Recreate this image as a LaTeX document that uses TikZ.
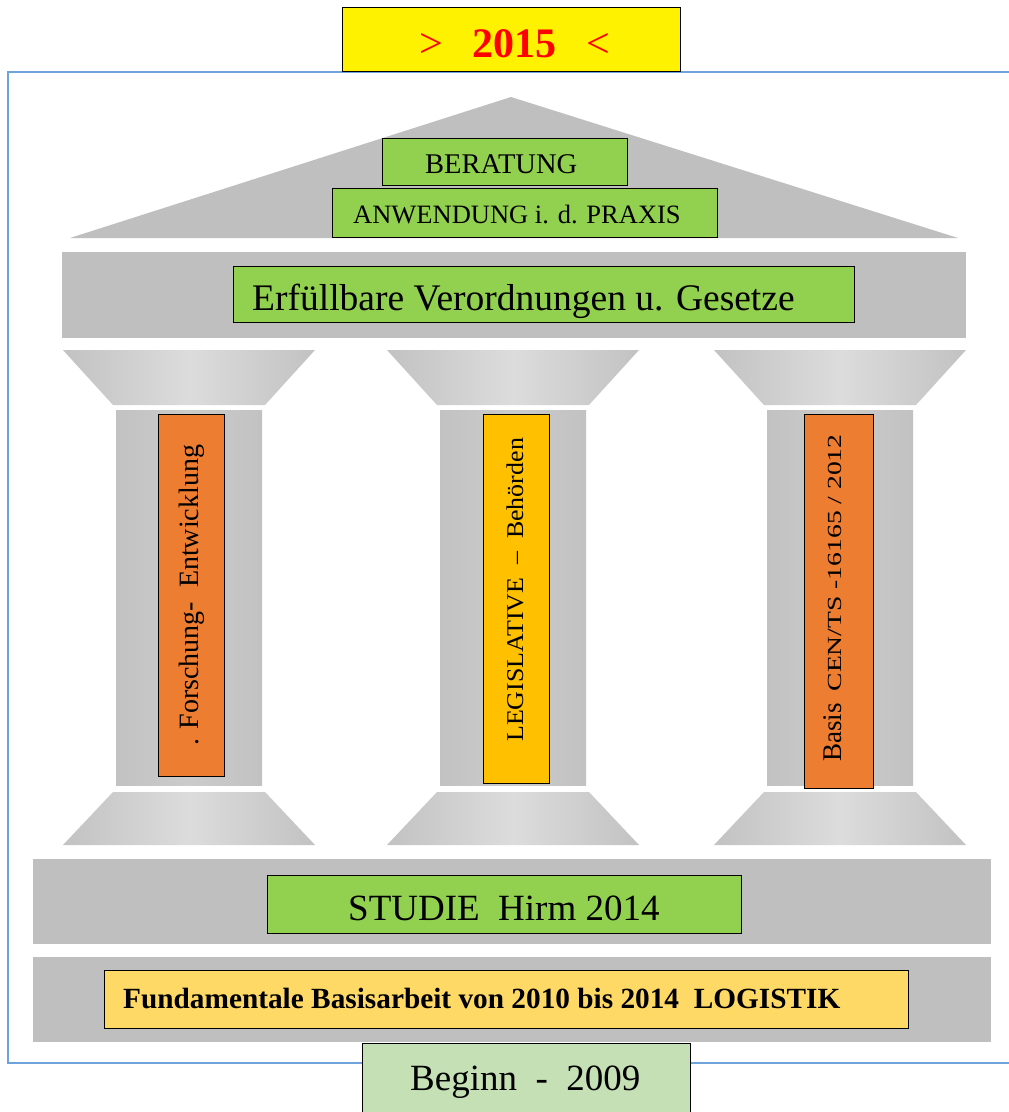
\documentclass[tikz,border=0pt]{standalone}
\usepackage{fontspec}
\setmainfont{Liberation Serif}
\definecolor{frameblue}{HTML}{6FA3DC}
\definecolor{gband}{HTML}{BFBFBF}
\definecolor{gdark}{HTML}{C2C2C2}
\definecolor{glight}{HTML}{DCDCDC}
\definecolor{gshaft}{HTML}{CBCBCB}
\definecolor{grn}{HTML}{92D050}
\definecolor{org}{HTML}{ED7D31}
\definecolor{gold}{HTML}{FFC000}
\definecolor{ltyel}{HTML}{FFD966}
\definecolor{ltgrn}{HTML}{C5E0B4}
\begin{document}
\begin{tikzpicture}[x=1pt,y=-1pt,
  boxst/.style={draw=black, line width=0.9pt, inner sep=0pt},
  txt/.style={inner sep=0pt, anchor=base west},
  vtxt/.style={inner sep=0pt, anchor=base west, rotate=90}]
\useasboundingbox (0,0) rectangle (1009,1112);
\fill[white] (0,0) rectangle (1009,1112);
% outer frame
\draw[frameblue, line width=1.6pt] (1015,72) -- (8,72) -- (8,1063) -- (1015,1063);
% roof
\fill[gband] (70,238) -- (511,97) -- (958,238) -- cycle;
% architrave
\fill[gband] (62,252) rectangle (966,338);
% pillars
\foreach \cx in {189,513,840}{
  \shade[left color=gdark, right color=gdark, middle color=glight]
    (\cx-126,350) -- (\cx+126,350) -- (\cx+76,405) -- (\cx-76,405) -- cycle;
  \shade[left color=gdark, right color=gdark, middle color=gshaft]
    (\cx-73,410) rectangle (\cx+73,785);
  \shade[left color=gdark, right color=gdark, middle color=glight]
    (\cx-76,792) -- (\cx+76,792) -- (\cx+126,845) -- (\cx-126,845) -- cycle;
}
% stylobate bands
\fill[gband] (33,859) rectangle (991,944);
\fill[gband] (33,957) rectangle (991,1042);
% boxes
\node[boxst, fill=yellow, minimum width=338pt, minimum height=64pt] (yr) at (511,39) {};
\node[boxst, fill=grn, minimum width=245pt, minimum height=47pt] (ber) at (504.5,161.5) {};
\node[boxst, fill=grn, minimum width=385pt, minimum height=49pt] (anw) at (524.5,212.5) {};
\node[boxst, fill=grn, minimum width=621pt, minimum height=56pt] (erf) at (543.5,294) {};
\node[boxst, fill=org, minimum width=66pt, minimum height=362pt] (fe) at (191,595) {};
\node[boxst, fill=gold, minimum width=66pt, minimum height=369pt] (leg) at (516,598.5) {};
\node[boxst, fill=org, minimum width=69pt, minimum height=374pt] (bas) at (838.5,601) {};
\node[boxst, fill=grn, minimum width=474pt, minimum height=58pt] (stu) at (504,904) {};
\node[boxst, fill=ltyel, minimum width=804pt, minimum height=58pt] (fun) at (506,999) {};
\node[boxst, fill=ltgrn, minimum width=328pt, minimum height=76pt] (beg) at (526,1081) {};
% texts
\node[txt, text=red] (t15) at (419,57) {\fontsize{42}{42}\selectfont >\hspace{30pt}\textbf{2015}\hspace{30pt}<};
\node[txt] (tber) at (425,173) {\fontsize{28.5}{30}\selectfont BERATUNG};
\node[txt] (tanw) at (353,223) {\fontsize{26.5}{28}\selectfont ANWENDUNG i. d. PRAXIS};
\node[txt] (terf) at (252,310) {\fontsize{37.5}{39}\selectfont Erfüllbare Verordnungen u. Gesetze};
\node[vtxt] (tfe) at (198,746) {\fontsize{28}{30}\selectfont . Forschung-\ \ Entwicklung};
\node[vtxt] (tleg) at (523,742) {\fontsize{24}{26}\selectfont\scalebox{1.08}[1]{LEGISLATIVE \ – \ Behörden}};
\node[vtxt] (tbas) at (841,762) {\fontsize{27}{29}\selectfont Basis\hspace{12pt}\fontsize{20}{22}\selectfont\scalebox{1.38}[1]{CEN/TS -16165 / 2012}};
\node[txt] (tstu) at (348,920) {\fontsize{37}{39}\selectfont STUDIE\ \ Hirm 2014};
\node[txt] (tfun) at (123,1008) {\fontsize{29.3}{31}\selectfont\bfseries Fundamentale Basisarbeit von 2010 bis 2014\ \ LOGISTIK};
\node[txt] (tbeg) at (410,1090) {\fontsize{37}{39}\selectfont Beginn\ \ -\ \ 2009};
\end{tikzpicture}
\end{document}
